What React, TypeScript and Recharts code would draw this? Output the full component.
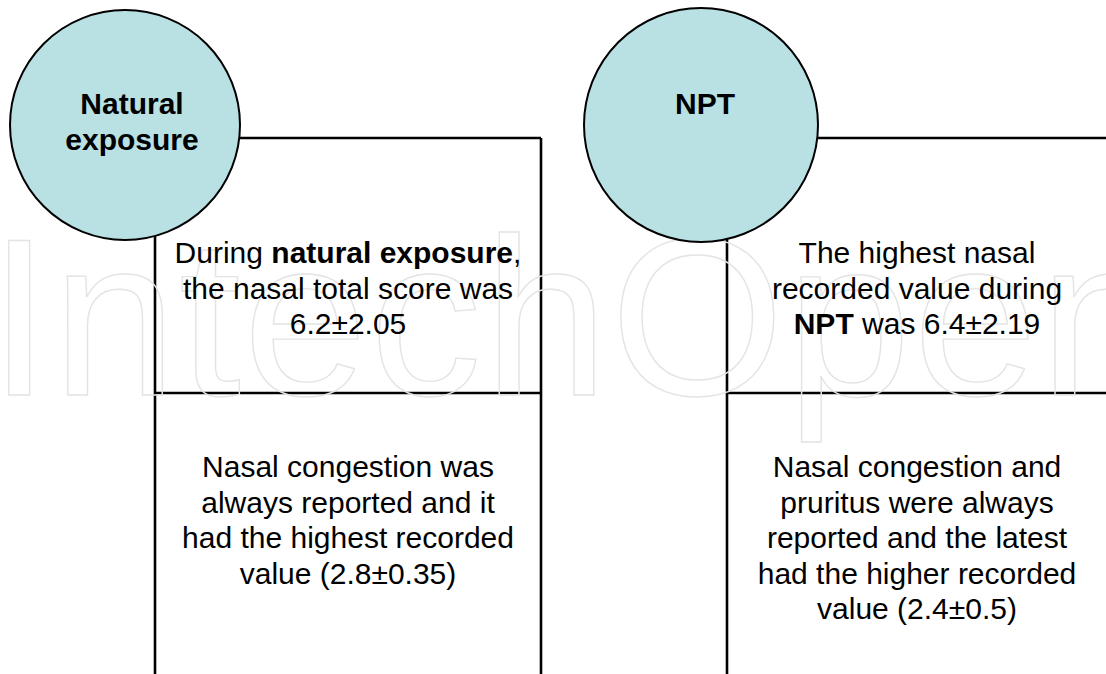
import { ComposedChart, ReferenceDot, ReferenceLine, XAxis, YAxis } from 'recharts';

// Content of the two panels (bold parts wrapped in **)
const panelTitles = [['Natural', 'exposure'], ['NPT']];
const topStatements = [
    ['During **natural exposure**,', 'the nasal total score was', '6.2±2.05'],
    ['The highest nasal', 'recorded value during', '**NPT** was 6.4±2.19'],
];
const bottomStatements = [
    ['Nasal congestion was', 'always reported and it', 'had the highest recorded', 'value (2.8±0.35)'],
    ['Nasal congestion and', 'pruritus were always', 'reported and the latest', 'had the higher recorded', 'value (2.4±0.5)'],
];
const watermarkText = 'IntechOpen';

// Layout
const W = 1106;
const H = 674;
const BOX_TOP = 138;
const DIVIDER = 393;
const LINE_H = 35.5;
const FONT = '"Liberation Sans", Arial, sans-serif';
const FONT_SIZE = 30;
const layout = [
    { cx: 125, cy: 125, r: 115, left: 155, right: 541, textX: 348, titleX: 132, closed: true },
    { cx: 701, cy: 125, r: 117, left: 727, right: W, textX: 917, titleX: 705, closed: false },
];

const renderLine = (line: string) =>
    line.split('**').map((part, i) =>
        i % 2 === 1 ? (
            <tspan key={i} fontWeight="bold">
                {part}
            </tspan>
        ) : (
            <tspan key={i}>{part}</tspan>
        )
    );

// cy = baseline of the first line
const TextBlock = ({ cx, cy, lines, bold }: any) => (
    <g>
        {lines.map((l: string, i: number) => (
            <text
                key={i}
                x={cx}
                y={cy + i * LINE_H - 1}
                textAnchor="middle"
                fontFamily={FONT}
                fontSize={FONT_SIZE}
                fontWeight={bold ? 'bold' : 'normal'}
                fill="#000"
            >
                {renderLine(l)}
            </text>
        ))}
    </g>
);

const Watermark = ({ cx, cy }: any) => (
    <text
        x={cx}
        y={cy}
        fontFamily={FONT}
        fontSize={224}
        fontWeight={300}
        fill="none"
        stroke="#e4e4e4"
        strokeWidth={1.4}
        letterSpacing={2}
    >
        {watermarkText}
    </text>
);

const Node = ({ cx, cy, r }: any) => (
    <circle cx={cx} cy={cy} r={r} fill="#b9e0e3" stroke="#000" strokeWidth={2} />
);

export default function App() {
    return (
        <div style={{ position: 'fixed', left: 0, top: 0, width: W, height: H, background: '#fff' }}>
            <ComposedChart width={W} height={H} margin={{ top: 0, right: 0, bottom: 0, left: 0 }}>
                <XAxis type="number" dataKey="x" domain={[0, W]} hide allowDataOverflow />
                <YAxis type="number" dataKey="y" domain={[0, H]} reversed hide allowDataOverflow width={0} />
                <ReferenceDot x={0} y={395} r={0} shape={(p: any) => <Watermark {...p} cx={p.cx - 12} />} ifOverflow="visible" />
                {layout.map((p, i) => {
                    const hx = p.cx + Math.sqrt(p.r * p.r - (BOX_TOP - p.cy) ** 2);
                    const vy = p.cy + Math.sqrt(p.r * p.r - (p.left - p.cx) ** 2);
                    return [
                        <ReferenceLine
                            key={`h${i}`}
                            segment={[{ x: hx, y: BOX_TOP }, { x: p.right, y: BOX_TOP }]}
                            stroke="#000"
                            strokeWidth={2.6}
                            ifOverflow="visible"
                        />,
                        <ReferenceLine
                            key={`v${i}`}
                            segment={[{ x: p.left, y: vy }, { x: p.left, y: H }]}
                            stroke="#000"
                            strokeWidth={2.6}
                            ifOverflow="visible"
                        />,
                        p.closed ? (
                            <ReferenceLine
                                key={`r${i}`}
                                segment={[{ x: p.right, y: BOX_TOP }, { x: p.right, y: H }]}
                                stroke="#000"
                                strokeWidth={2.6}
                                ifOverflow="visible"
                            />
                        ) : null,
                        <ReferenceLine
                            key={`d${i}`}
                            segment={[{ x: p.left, y: DIVIDER }, { x: p.right, y: DIVIDER }]}
                            stroke="#000"
                            strokeWidth={2.6}
                            ifOverflow="visible"
                        />,
                        <ReferenceDot
                            key={`c${i}`}
                            x={p.cx}
                            y={p.cy}
                            r={p.r}
                            shape={(s: any) => <Node {...s} r={p.r} />}
                            ifOverflow="visible"
                        />,
                        <ReferenceDot
                            key={`t${i}`}
                            x={p.titleX}
                            y={115}
                            r={0}
                            shape={(s: any) => <TextBlock {...s} lines={panelTitles[i]} bold />}
                            ifOverflow="visible"
                        />,
                        <ReferenceDot
                            key={`a${i}`}
                            x={p.textX}
                            y={264}
                            r={0}
                            shape={(s: any) => <TextBlock {...s} lines={topStatements[i]} />}
                            ifOverflow="visible"
                        />,
                        <ReferenceDot
                            key={`b${i}`}
                            x={p.textX}
                            y={478}
                            r={0}
                            shape={(s: any) => <TextBlock {...s} lines={bottomStatements[i]} />}
                            ifOverflow="visible"
                        />,
                    ];
                })}
            </ComposedChart>
        </div>
    );
}
